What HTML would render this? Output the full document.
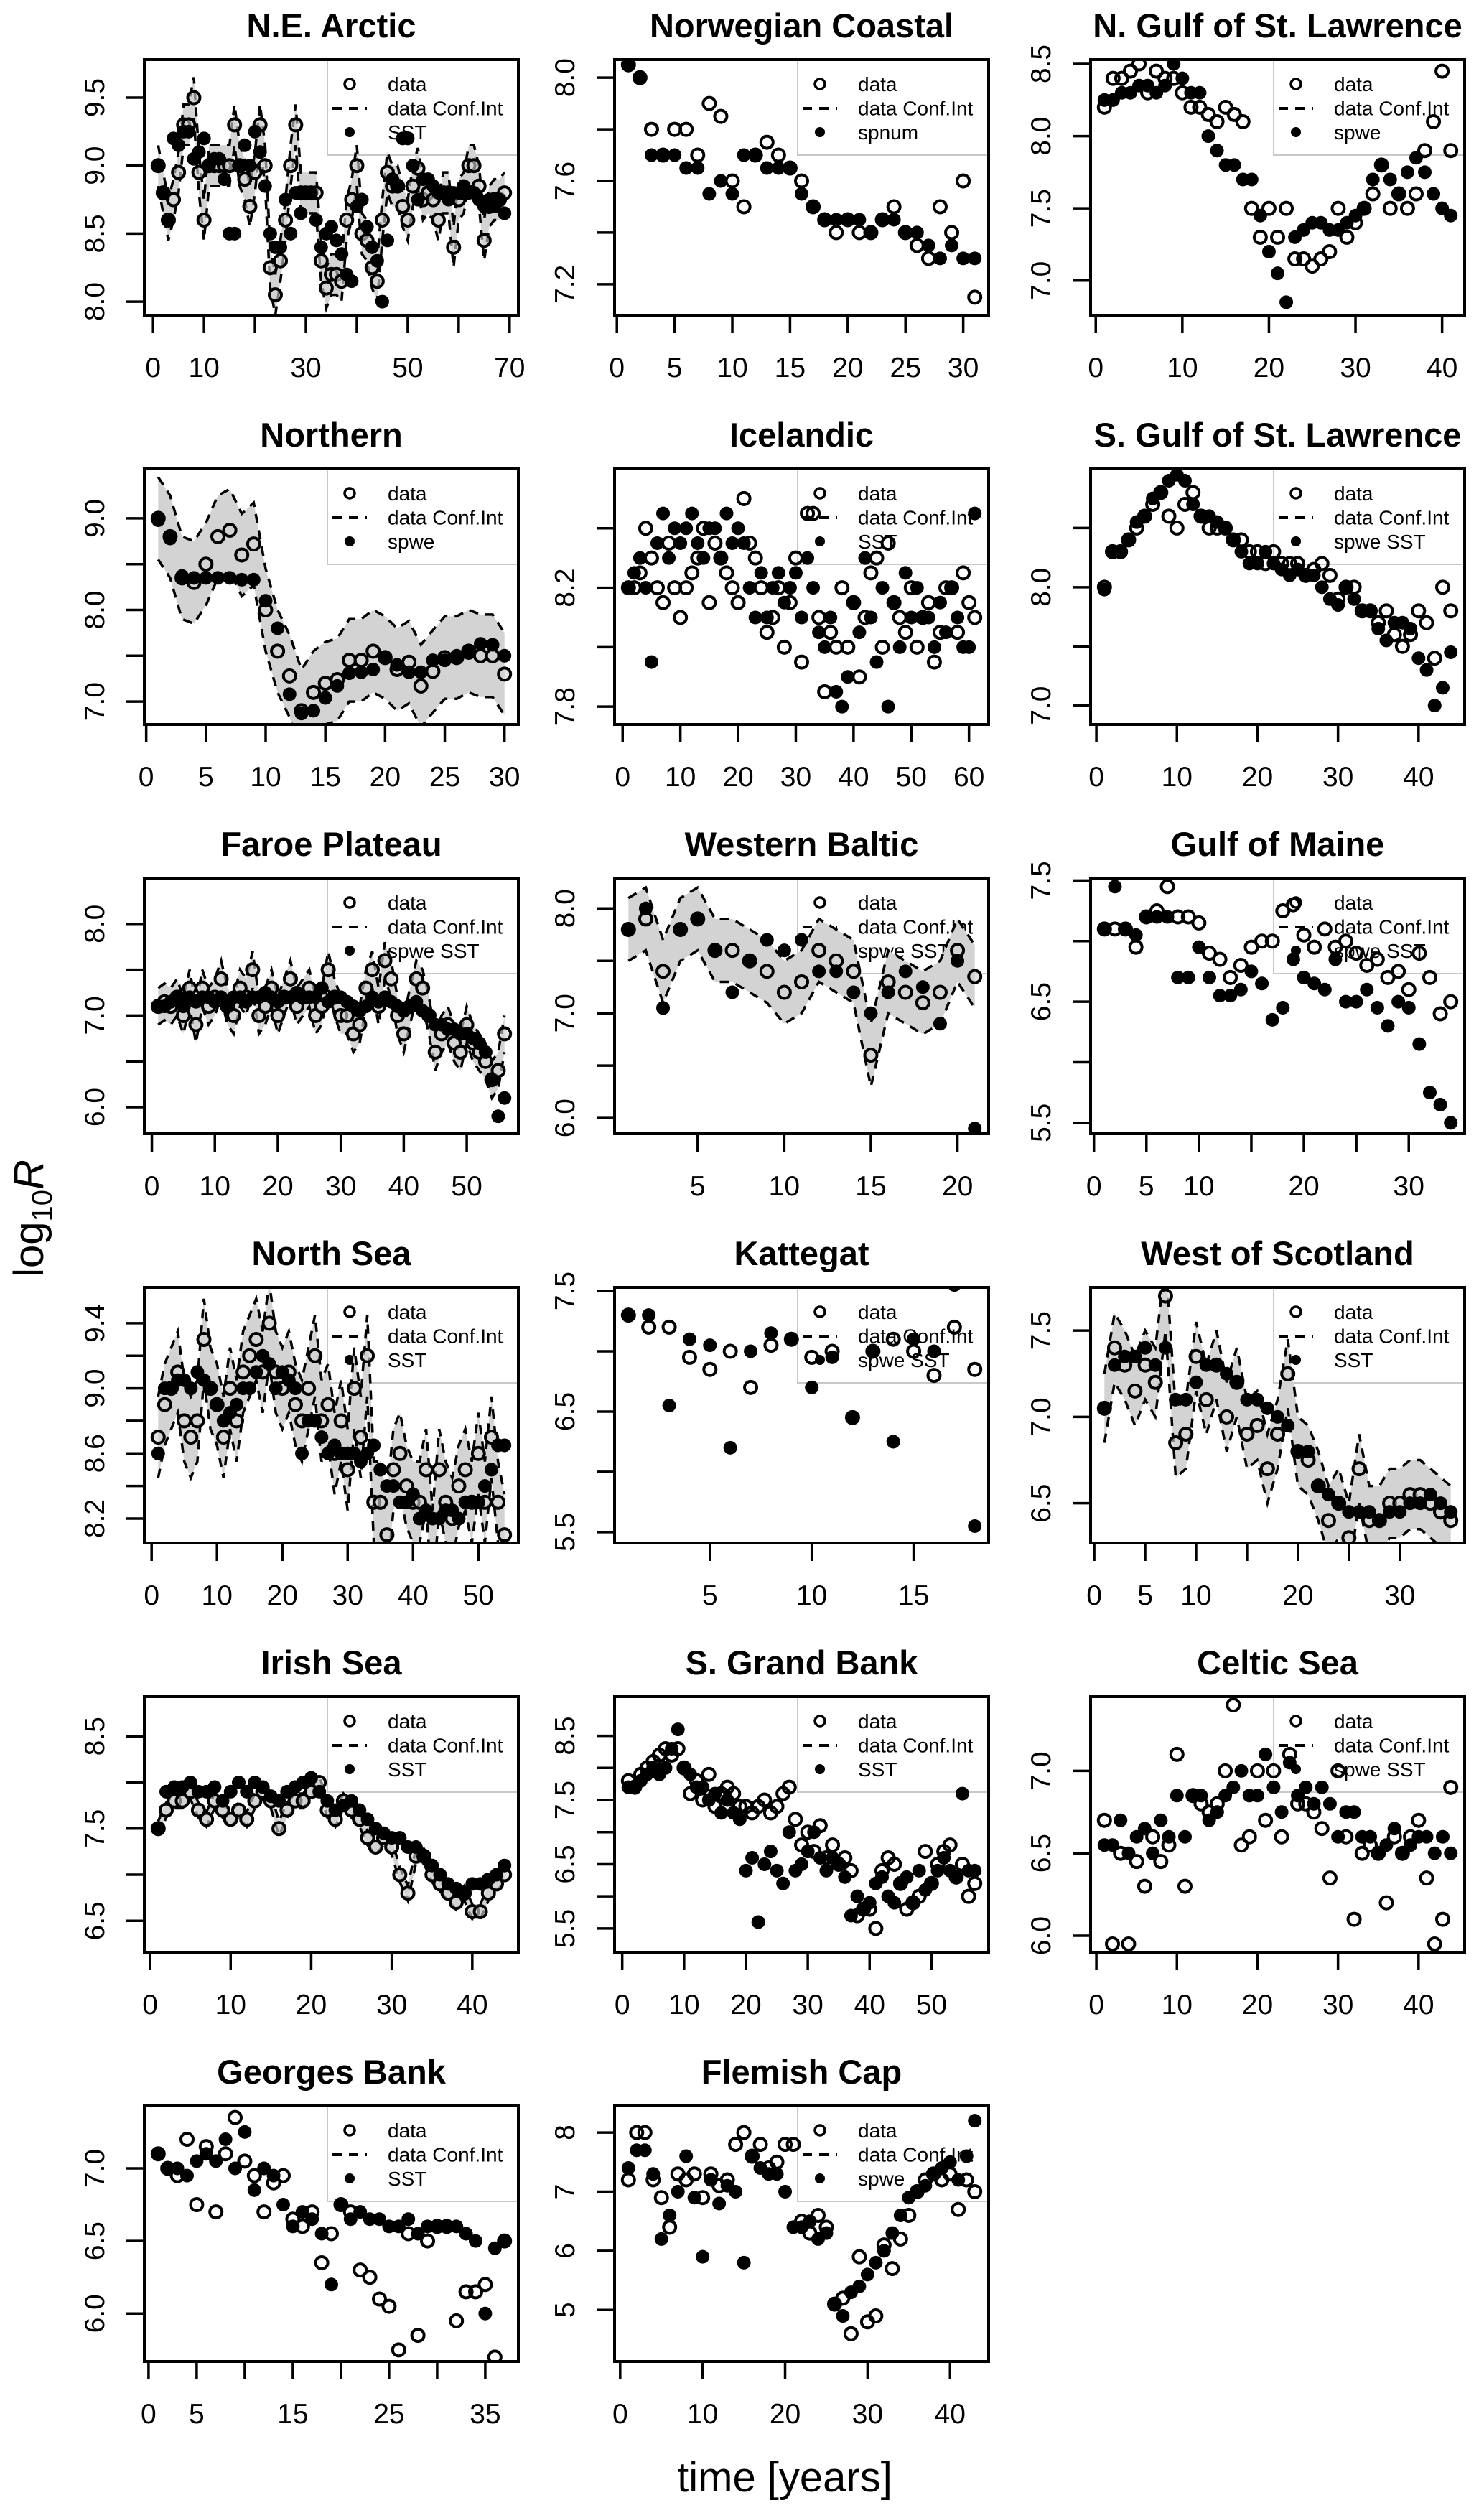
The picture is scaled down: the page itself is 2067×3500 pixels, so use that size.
<!DOCTYPE html>
<html><head><meta charset="utf-8"><title>log10R time series panels</title>
<style>
html,body{margin:0;padding:0;background:#fff;}
svg{display:block;font-family:"Liberation Sans",Arial,sans-serif;}
</style></head>
<body>
<svg id="chart" xmlns="http://www.w3.org/2000/svg" width="2067" height="3500" viewBox="0 0 2067 3500">
<rect x="0" y="0" width="2067" height="3500" fill="#fff"/>
<text transform="translate(60,1697) rotate(-90)" text-anchor="middle" font-size="58">log<tspan font-size="40" dy="12">10</tspan><tspan dy="-12" font-style="italic">R</tspan></text>
<text x="1093" y="3470" text-anchor="middle" font-size="58">time [years]</text>
</svg>
<script>
// ---------- data ----------
const titles = ["N.E. Arctic","Norwegian Coastal","N. Gulf of St. Lawrence","Northern","Icelandic","S. Gulf of St. Lawrence","Faroe Plateau","Western Baltic","Gulf of Maine","North Sea","Kattegat","West of Scotland","Irish Sea","S. Grand Bank","Celtic Sea","Georges Bank","Flemish Cap"];
const covariateLabels = ["SST","spnum","spwe","spwe","SST","spwe SST","spwe SST","spwe SST","spwe SST","SST","spwe SST","SST","SST","SST","spwe SST","SST","spwe"];

const neArcticData = [9.0,8.8,8.6,8.75,8.95,9.3,9.3,9.5,8.95,8.6,9.0,9.0,9.0,9.0,9.0,9.3,9.0,8.9,8.7,8.95,9.3,9.0,8.25,8.05,8.3,8.6,9.0,9.3,8.8,8.8,8.8,8.8,8.3,8.1,8.2,8.2,8.15,8.6,8.75,9.0,8.5,8.45,8.25,8.15,8.6,8.95,8.85,8.85,8.7,8.6,8.85,8.98,8.75,8.8,8.75,8.6,8.8,8.8,8.4,8.75,8.8,9.0,9.0,8.85,8.45,8.7,8.75,8.75,8.8];
const neArcticModel = [9.0,8.8,8.6,9.2,9.15,9.25,9.25,9.05,9.1,9.2,9.0,9.05,9.05,8.9,8.5,8.5,9.0,9.15,9.0,9.25,9.1,8.85,8.5,8.4,8.4,8.75,8.5,8.8,8.65,8.8,8.8,8.6,8.4,8.5,8.55,8.45,8.35,8.2,8.15,8.7,8.75,8.55,8.4,8.3,8.0,8.45,8.9,8.85,9.2,9.2,9.0,8.75,8.9,8.9,8.85,8.8,8.8,8.75,8.8,8.8,8.85,8.8,8.8,8.75,8.7,8.75,8.7,8.75,8.65];
const norCoastData = [8.05,8.0,7.8,7.7,7.8,7.8,7.7,7.9,7.85,7.6,7.5,7.7,7.75,7.7,7.65,7.6,7.5,7.45,7.4,7.45,7.4,7.4,7.45,7.5,7.4,7.35,7.3,7.5,7.4,7.6,7.15];
const norCoastModel = [8.05,8.0,7.7,7.7,7.7,7.65,7.65,7.55,7.6,7.55,7.7,7.7,7.65,7.65,7.65,7.55,7.5,7.45,7.45,7.45,7.45,7.4,7.45,7.45,7.4,7.4,7.35,7.3,7.35,7.3,7.3];
const nGulfData = [8.2,8.4,8.4,8.45,8.5,8.3,8.45,8.4,8.4,8.3,8.2,8.2,8.15,8.1,8.2,8.15,8.1,7.5,7.3,7.5,7.3,7.5,7.15,7.15,7.1,7.15,7.2,7.5,7.3,7.4,7.5,7.6,7.8,7.5,7.6,7.5,7.6,7.9,8.1,8.45,7.9];
const nGulfModel = [8.25,8.25,8.3,8.3,8.35,8.35,8.3,8.35,8.5,8.4,8.3,8.3,8.0,7.9,7.8,7.8,7.7,7.7,7.45,7.2,7.05,6.85,7.3,7.35,7.4,7.4,7.35,7.35,7.4,7.45,7.5,7.7,7.8,7.7,7.6,7.75,7.85,7.75,7.6,7.5,7.45];
const northernData = [9.0,8.8,8.35,8.3,8.5,8.8,8.87,8.6,8.72,8.0,7.55,7.28,6.9,7.1,7.2,7.24,7.45,7.45,7.55,7.48,7.35,7.43,7.17,7.33,7.48,7.48,7.55,7.5,7.5,7.3];
const northernModel = [8.98,8.78,8.37,8.35,8.35,8.35,8.35,8.33,8.33,8.1,7.8,7.08,6.87,6.9,7.04,7.17,7.31,7.32,7.35,7.48,7.4,7.32,7.32,7.45,7.45,7.5,7.53,7.63,7.62,7.5];
const icelandicData = [8.2,8.2,8.25,8.4,8.3,8.2,8.15,8.35,8.2,8.1,8.2,8.25,8.3,8.4,8.15,8.35,8.3,8.25,8.2,8.15,8.5,8.35,8.3,8.2,8.05,8.1,8.2,8.0,8.15,8.3,7.95,8.45,8.45,8.1,7.85,8.05,8.0,8.2,8.0,8.15,7.9,8.1,8.25,8.3,8.0,8.35,8.15,8.1,8.05,8.2,8.0,8.1,8.15,7.95,8.05,8.2,8.2,8.05,8.25,8.15,8.1];
const icelandicModel = [8.2,8.25,8.3,8.2,7.95,8.35,8.45,8.3,8.4,8.35,8.4,8.45,8.35,8.3,8.4,8.4,8.3,8.45,8.35,8.4,8.35,8.2,8.1,8.25,8.1,8.2,8.25,8.15,8.2,8.25,8.1,8.3,8.2,8.05,8.0,8.1,7.85,7.8,7.9,8.15,8.05,8.3,8.1,7.95,8.2,7.8,8.15,8.0,8.25,8.1,8.2,8.1,8.1,8.0,8.15,8.05,8.2,8.1,8.0,8.0,8.45];
const sGulfData = [8.0,8.3,8.3,8.4,8.5,8.6,8.7,8.8,8.6,8.5,8.7,8.8,8.6,8.5,8.5,8.5,8.4,8.4,8.3,8.3,8.2,8.3,8.2,8.2,8.2,8.1,8.15,8.2,8.1,7.9,8.0,8.0,7.8,7.8,7.7,7.8,7.6,7.5,7.6,7.8,7.7,7.4,8.0,7.8];
const sGulfModel = [7.98,8.3,8.3,8.4,8.55,8.6,8.75,8.8,8.9,8.95,8.9,8.7,8.6,8.6,8.55,8.5,8.4,8.3,8.2,8.2,8.3,8.2,8.15,8.1,8.15,8.1,8.1,8.0,7.9,7.85,8.0,7.9,7.8,7.8,7.65,7.55,7.7,7.7,7.65,7.4,7.3,7.0,7.15,7.45];
const faroeData = [7.1,7.15,7.1,7.2,7.0,7.3,6.9,7.3,7.1,7.2,7.4,7.1,7.0,7.3,7.2,7.5,7.0,7.1,7.3,7.0,7.2,7.4,7.1,7.2,7.3,7.0,7.1,7.5,7.2,7.0,7.0,6.8,6.9,7.3,7.5,7.1,7.6,7.4,7.0,6.8,7.1,7.4,7.3,7.0,6.6,6.8,6.9,6.7,6.6,6.9,6.7,6.6,6.5,6.3,6.4,6.8];
const faroeModel = [7.1,7.1,7.15,7.2,7.1,7.2,7.15,7.2,7.2,7.15,7.2,7.1,7.2,7.2,7.15,7.2,7.2,7.25,7.2,7.15,7.2,7.2,7.25,7.2,7.2,7.2,7.3,7.15,7.2,7.2,7.15,7.1,7.05,7.1,7.2,7.15,7.2,7.15,7.1,7.05,7.1,7.15,7.05,7.0,6.9,6.9,6.85,6.85,6.8,6.8,6.75,6.7,6.6,6.3,5.9,6.1];
const wBalticData = [7.8,7.9,7.4,7.8,7.9,7.6,7.6,7.5,7.4,7.2,7.3,7.6,7.5,7.4,6.6,7.3,7.2,7.1,7.2,7.6,7.35];
const wBalticModel = [7.8,8.0,7.05,7.8,7.9,7.6,7.2,7.5,7.7,7.6,7.7,7.4,7.4,7.2,7.0,7.2,7.4,7.25,6.9,7.5,5.9];
const gMaineData = [7.1,7.1,7.1,6.95,7.2,7.25,7.45,7.2,7.2,7.15,6.9,6.85,6.7,6.8,6.95,7.0,7.0,7.25,7.3,7.05,6.95,7.1,6.95,7.0,6.9,6.8,6.85,6.7,6.75,6.6,6.9,6.7,6.4,6.5];
const gMaineModel = [7.1,7.45,7.1,7.05,7.2,7.2,7.2,6.7,6.7,6.95,6.7,6.55,6.55,6.6,6.75,6.65,6.35,6.45,6.85,6.7,6.65,6.6,6.85,6.5,6.5,6.6,6.45,6.3,6.5,6.45,6.15,5.75,5.65,5.5];
const nSeaData = [8.7,8.9,9.0,9.1,8.8,8.7,8.8,9.3,9.0,8.9,8.7,9.0,8.8,9.1,9.2,9.3,9.1,9.4,9.1,9.0,9.1,8.9,8.8,9.0,9.2,8.8,8.9,8.6,8.8,8.5,9.0,8.7,9.2,8.3,8.3,8.1,8.5,8.6,8.4,8.3,8.3,8.5,8.0,8.5,8.3,8.2,8.4,8.5,8.3,8.6,8.3,8.7,8.3,8.1];
const nSeaModel = [8.6,9.0,9.0,9.05,9.05,9.0,9.1,9.05,9.0,8.9,8.8,8.85,8.9,9.0,9.0,9.1,9.2,9.15,9.0,9.1,9.05,9.0,8.6,8.8,8.8,8.7,8.6,8.65,8.6,8.6,8.6,8.55,8.6,8.65,8.5,8.4,8.4,8.3,8.3,8.35,8.2,8.25,8.2,8.2,8.25,8.25,8.2,8.3,8.3,8.3,8.4,8.5,8.65,8.65];
const kattegatData = [7.3,7.2,7.2,6.95,6.85,7.0,6.7,7.05,7.1,6.95,7.0,6.45,7.0,7.1,7.0,6.8,7.2,6.85];
const kattegatModel = [7.3,7.3,6.55,7.1,7.05,6.2,7.0,7.15,7.1,6.7,6.95,6.45,7.0,6.25,7.1,7.0,7.55,5.55];
const wScotData = [7.05,7.4,7.3,7.15,7.3,7.2,7.7,6.85,6.9,7.35,7.1,7.3,7.0,7.2,6.9,6.95,6.7,6.9,7.25,6.8,6.75,6.6,6.4,6.5,6.3,6.7,6.4,6.4,6.5,6.5,6.55,6.55,6.5,6.45,6.4];
const wScotModel = [7.05,7.3,7.35,7.35,7.4,7.3,7.4,7.1,7.1,7.2,7.3,7.3,7.25,7.2,7.1,7.1,7.05,7.0,6.95,6.8,6.8,6.6,6.55,6.5,6.45,6.45,6.45,6.4,6.45,6.45,6.5,6.5,6.55,6.5,6.45];
const irishData = [7.5,7.7,7.8,7.8,7.9,7.7,7.6,7.8,7.7,7.6,7.7,7.6,7.8,7.9,7.8,7.5,7.7,7.8,7.8,7.9,8.0,7.7,7.6,7.8,7.7,7.6,7.4,7.3,7.4,7.3,7.0,6.8,7.2,7.2,7.0,6.9,6.8,6.7,6.8,6.6,6.6,6.8,6.9,7.0];
const irishModel = [7.5,7.9,7.95,7.95,8.0,7.9,7.9,7.95,7.8,7.9,8.0,7.9,8.0,7.95,7.85,7.8,7.9,7.95,8.0,8.05,7.9,7.8,7.7,7.75,7.8,7.7,7.6,7.5,7.45,7.4,7.4,7.3,7.3,7.2,7.1,7.0,6.9,6.85,6.8,6.9,6.9,6.95,7.0,7.1];
const sGrandData = [7.8,7.7,7.9,8.0,8.1,8.2,8.3,8.2,8.3,8.0,7.6,7.8,7.5,7.9,7.4,7.6,7.7,7.6,7.4,7.4,7.3,7.4,7.5,7.3,7.4,7.6,7.7,7.2,6.8,7.0,6.7,7.1,6.6,6.8,6.5,6.6,6.4,5.7,5.8,5.8,5.5,6.4,6.6,6.5,6.2,5.8,5.9,6.0,6.7,6.2,6.5,6.7,6.8,6.3,6.5,6.0,6.2];
const sGrandModel = [7.7,7.7,7.8,7.9,8.0,7.9,8.0,8.3,8.6,8.0,7.9,7.7,7.7,7.5,7.6,7.3,7.5,7.3,7.2,6.4,6.6,5.6,6.5,6.7,6.4,6.2,7.0,6.4,6.5,6.7,7.0,6.6,6.4,6.6,6.5,6.3,5.7,6.0,5.8,5.9,6.2,6.3,6.0,5.9,6.2,6.3,5.9,6.4,6.1,6.2,6.4,6.6,6.4,6.3,7.6,6.4,6.4];
const celticData = [6.7,5.95,6.5,5.95,6.45,6.3,6.6,6.45,6.55,7.1,6.3,6.85,6.8,6.75,6.8,7.0,7.4,6.55,6.6,7.0,6.7,7.0,6.6,7.1,6.8,6.8,6.75,6.65,6.35,7.0,6.6,6.1,6.5,6.55,6.5,6.2,6.6,6.5,6.6,6.7,6.35,5.95,6.1,6.9];
const celticModel = [6.55,6.55,6.7,6.5,6.6,6.65,6.5,6.7,6.6,6.85,6.6,6.85,6.85,6.7,6.75,6.85,6.9,7.0,6.85,6.85,7.1,6.9,6.75,7.05,6.85,6.9,6.8,6.9,6.8,6.6,6.75,6.75,6.6,6.6,6.5,6.55,6.65,6.5,6.55,6.6,6.6,6.5,6.6,6.5];
const georgesData = [7.1,7.0,6.95,7.2,6.75,7.15,6.7,7.1,7.35,7.05,6.95,6.7,6.9,6.95,6.65,6.6,6.7,6.35,6.55,6.75,6.7,6.3,6.25,6.1,6.05,5.75,6.55,5.85,6.5,6.6,6.6,5.95,6.15,6.15,6.2,5.7,6.5];
const georgesModel = [7.1,7.0,7.0,6.95,7.05,7.1,7.05,7.2,7.0,7.25,6.85,7.0,6.95,6.75,6.6,6.7,6.65,6.55,6.2,6.75,6.65,6.7,6.65,6.65,6.6,6.6,6.65,6.55,6.6,6.6,6.6,6.6,6.55,6.5,6.0,6.45,6.5];
const flemishData = [7.2,8.0,8.0,7.2,6.9,6.4,7.3,7.2,7.3,6.9,7.3,7.1,7.2,7.8,8.0,7.6,7.8,7.4,7.5,7.8,7.8,6.5,6.3,6.6,6.4,5.1,5.2,4.6,5.9,4.8,4.9,6.1,5.7,6.2,6.6,7.0,7.2,7.3,7.2,7.3,6.7,7.2,7.0];
const flemishModel = [7.4,7.7,7.7,7.3,6.2,6.6,7.0,7.6,6.9,5.9,7.2,6.8,7.1,7.0,5.8,7.6,7.4,7.3,7.3,7.0,6.4,6.4,6.5,6.2,6.3,5.1,4.9,5.3,5.4,5.6,5.8,6.0,6.3,6.6,6.9,7.0,7.1,7.3,7.4,7.5,7.2,7.6,8.2];

const yLimits = [[7.90,9.78],[7.08,8.07],[6.76,8.53],[6.75,9.54],[7.74,8.60],[6.84,9.0],[5.71,8.5],[5.85,8.29],[5.41,7.52],[8.05,9.62],[5.41,7.53],[6.27,7.75],[6.16,8.93],[5.13,9.11],[5.90,7.45],[5.67,7.43],[4.13,8.45]];
const yTickValues = [[8.0,8.5,9.0,9.5],[7.2,7.4,7.6,7.8,8.0],[7.0,7.5,8.0,8.5],[7.0,7.5,8.0,8.5,9.0],[7.8,8.0,8.2,8.4],[7.0,7.5,8.0,8.5],[6.0,6.5,7.0,7.5,8.0],[6.0,6.5,7.0,7.5,8.0],[5.5,6.0,6.5,7.0,7.5],[8.2,8.4,8.6,8.8,9.0,9.2,9.4],[5.5,6.0,6.5,7.0,7.5],[6.5,7.0,7.5],[6.5,7.0,7.5,8.0,8.5],[5.5,6.0,6.5,7.0,7.5,8.0,8.5],[6.0,6.5,7.0],[6.0,6.5,7.0],[5,6,7,8]];
const yTickLabels = [["8.0","8.5","9.0","9.5"],["7.2","","7.6","","8.0"],["7.0","7.5","8.0","8.5"],["7.0","","8.0","","9.0"],["7.8","","8.2",""],["7.0","","8.0",""],["6.0","","7.0","","8.0"],["6.0","","7.0","","8.0"],["5.5","","6.5","","7.5"],["8.2","","8.6","","9.0","","9.4"],["5.5","","6.5","","7.5"],["6.5","7.0","7.5"],["6.5","","7.5","","8.5"],["5.5","","6.5","","7.5","","8.5"],["6.0","6.5","7.0"],["6.0","6.5","7.0"],["5","6","7","8"]];
const xTickValues = [[0,10,20,30,40,50,60,70],[0,5,10,15,20,25,30],[0,10,20,30,40],[0,5,10,15,20,25,30],[0,10,20,30,40,50,60],[0,10,20,30,40],[0,10,20,30,40,50],[5,10,15,20],[0,5,10,15,20,25,30],[0,10,20,30,40,50],[5,10,15],[0,5,10,15,20,25,30],[0,10,20,30,40],[0,10,20,30,40,50],[0,10,20,30,40],[0,5,10,15,20,25,30,35],[0,10,20,30,40]];
const xTickLabels = [["0","10","","30","","50","","70"],["0","5","10","15","20","25","30"],["0","10","20","30","40"],["0","5","10","15","20","25","30"],["0","10","20","30","40","50","60"],["0","10","20","30","40"],["0","10","20","30","40","50"],["5","10","15","20"],["0","5","10","","20","","30"],["0","10","20","30","40","50"],["5","10","15"],["0","5","10","","20","","30"],["0","10","20","30","40"],["0","10","20","30","40","50"],["0","10","20","30","40"],["0","5","","15","","25","","35"],["0","10","20","30","40"]];
const ciHalfWidths = [0.15,0,0,0.45,0,0,0.2,0.3,0,0.25,0,0.2,0.08,0,0,0,0];

const observedSeries = [neArcticData,norCoastData,nGulfData,northernData,icelandicData,sGulfData,faroeData,wBalticData,gMaineData,nSeaData,kattegatData,wScotData,irishData,sGrandData,celticData,georgesData,flemishData];
const modelSeries = [neArcticModel,norCoastModel,nGulfModel,northernModel,icelandicModel,sGulfModel,faroeModel,wBalticModel,gMaineModel,nSeaModel,kattegatModel,wScotModel,irishModel,sGrandModel,celticModel,georgesModel,flemishModel];

// ---------- layout ----------
const NS = "http://www.w3.org/2000/svg";
const svg = document.getElementById("chart");
const COL_LEFT = [201, 856, 1519];
const ROW_TOP0 = 83, ROW_STEP = 570, BOX_W = 521, BOX_H = 356;

function mk(tag, attrs, parent) {
  const e = document.createElementNS(NS, tag);
  for (const k in attrs) e.setAttribute(k, attrs[k]);
  (parent || svg).appendChild(e);
  return e;
}
function slug(s) { return s.toLowerCase().replace(/[^a-z0-9]+/g, "-").replace(/^-|-$/g, ""); }

titles.forEach((title, i) => {
  const col = i % 3, row = Math.floor(i / 3);
  const L = COL_LEFT[col], T = ROW_TOP0 + row * ROW_STEP, W = BOX_W, H = BOX_H;
  const obs = observedSeries[i], mod = modelSeries[i];
  const n = Math.max(obs.length, mod.length);
  const xmin = 1 - 0.04 * (n - 1), xmax = n + 0.04 * (n - 1);
  const [ymin, ymax] = yLimits[i];
  const sx = v => L + (v - xmin) / (xmax - xmin) * W;
  const sy = v => T + (ymax - v) / (ymax - ymin) * H;
  const id = slug(title);

  const g = mk("g", {});
  
  

  const cp = mk("clipPath", { id: "clip" + i }, g);
  mk("rect", { x: L, y: T, width: W, height: H }, cp);

  const t = mk("text", { x: L + W / 2, y: T - 31, "text-anchor": "middle", "font-size": 47, "font-weight": "bold" }, g);
  t.textContent = title;
  
  

  const lg = mk("g", {}, g);
  
  
  mk("rect", { x: L + 255, y: T, width: W - 255, height: 133, fill: "none", stroke: "#c8c8c8", "stroke-width": 2 }, lg);
  const lx = L + 286, tx = L + 339;
  const s1 = mk("circle", { cx: lx, cy: T + 34, r: 7, fill: "none", stroke: "#000", "stroke-width": 3.5 }, lg);
  
  
  const s2 = mk("line", { x1: L + 262, x2: L + 310, y1: T + 68, y2: T + 68, stroke: "#000", "stroke-width": 4, "stroke-dasharray": "13 10" }, lg);
  
  
  const s3 = mk("circle", { cx: lx, cy: T + 101, r: 7, fill: "#000" }, lg);
  
  
  ["data", "data Conf.Int", covariateLabels[i]].forEach((lab, k) => {
    const lt = mk("text", { x: tx, y: T + 44 + k * 33.5, "font-size": 28 }, lg);
    lt.textContent = lab;
    
    
  });

  const marks = mk("g", { "clip-path": "url(#clip" + i + ")" }, g);
  
  

  const ci = ciHalfWidths[i];
  if (ci > 0) {
    const up = obs.map((v, k) => sx(k + 1) + "," + sy(v + ci));
    const lo = obs.map((v, k) => sx(k + 1) + "," + sy(v - ci)).reverse();
    const band = mk("polygon", { points: up.concat(lo).join(" "), fill: "#d3d3d3", stroke: "none" }, marks);
    
    
    [ci, -ci].forEach(d => {
      const pl = mk("polyline", { points: obs.map((v, k) => sx(k + 1) + "," + sy(v + d)).join(" "), fill: "none", stroke: "#000", "stroke-width": 3.5, "stroke-dasharray": "13 10" }, marks);
      
      
    });
  }
  obs.forEach((v, k) => {
    const c = mk("circle", { cx: sx(k + 1), cy: sy(v), r: 8.5, fill: ci > 0 ? "#d3d3d3" : "none", "fill-opacity": ci > 0 ? 0.6 : 0, stroke: "#000", "stroke-width": 4 }, marks);
    
    
  });
  mod.forEach((v, k) => {
    const c = mk("circle", { cx: sx(k + 1), cy: sy(v), r: 9.5, fill: "#000" }, marks);
    
    
  });

  const box = mk("rect", { x: L, y: T, width: W, height: H, fill: "none", stroke: "#000", "stroke-width": 4 }, g);
  
  

  const xa = mk("g", {}, g);
  
  
  xTickValues[i].forEach((v, k) => {
    const x = sx(v);
    mk("line", { x1: x, x2: x, y1: T + H, y2: T + H + 25, stroke: "#000", "stroke-width": 3.5 }, xa);
    if (xTickLabels[i][k]) {
      const lt = mk("text", { x: x, y: T + H + 86, "text-anchor": "middle", "font-size": 39 }, xa);
      lt.textContent = xTickLabels[i][k];
      
      
    }
  });
  const ya = mk("g", {}, g);
  
  
  yTickValues[i].forEach((v, k) => {
    const y = sy(v);
    mk("line", { x1: L - 25, x2: L, y1: y, y2: y, stroke: "#000", "stroke-width": 3.5 }, ya);
    if (yTickLabels[i][k]) {
      const lt = mk("text", { transform: "translate(" + (L - 56) + "," + y + ") rotate(-90)", "text-anchor": "middle", "font-size": 39 }, ya);
      lt.textContent = yTickLabels[i][k];
      
      
    }
  });
});
</script>
</body></html>
